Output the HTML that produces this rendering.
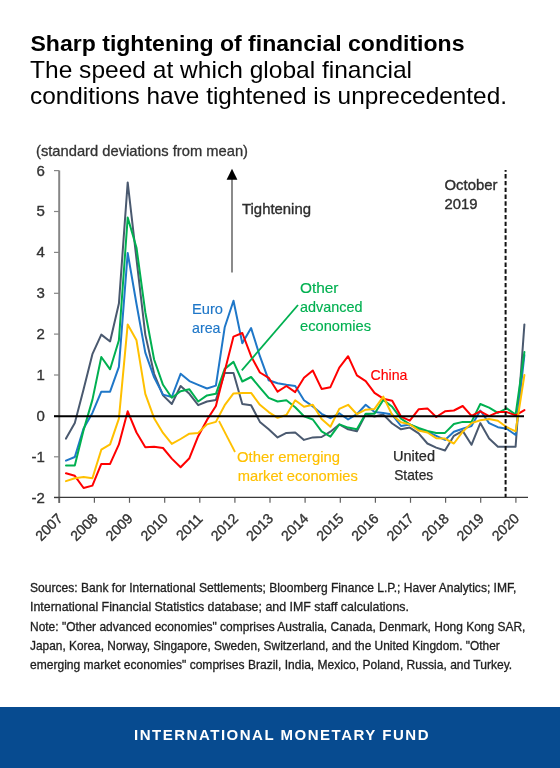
<!DOCTYPE html>
<html><head><meta charset="utf-8"><title>Sharp tightening of financial conditions</title>
<style>
html,body{margin:0;padding:0;background:#fff;}
body{width:560px;height:768px;overflow:hidden;position:relative;font-family:"Liberation Sans", sans-serif;}
svg{display:block;will-change:transform;}
</style></head><body>
<svg width="560" height="768" viewBox="0 0 560 768" font-family='"Liberation Sans", sans-serif'>
<rect x="0" y="0" width="560" height="768" fill="#ffffff"/>

<text x="30.5" y="51" font-size="22.8" font-weight="bold" fill="#000" textLength="434" lengthAdjust="spacingAndGlyphs">Sharp tightening of financial conditions</text>
<text x="30" y="77.7" font-size="23.4" fill="#000" textLength="382" lengthAdjust="spacingAndGlyphs">The speed at which global financial</text>
<text x="30" y="104.3" font-size="23.4" fill="#000" textLength="477" lengthAdjust="spacingAndGlyphs">conditions have tightened is unprecedented.</text>
<text x="36" y="156.4" font-size="14.4" fill="#333" stroke="#333" stroke-width="0.3" textLength="212" lengthAdjust="spacingAndGlyphs">(standard deviations from mean)</text>
<line x1="59.2" y1="170.5" x2="59.2" y2="503" stroke="#868686" stroke-width="2"/>
<line x1="54" y1="497.7" x2="59.2" y2="497.7" stroke="#868686" stroke-width="1.2"/>
<text x="44.8" y="502.6" font-size="15" fill="#333" stroke="#333" stroke-width="0.35" text-anchor="end">-2</text>
<line x1="54" y1="456.8" x2="59.2" y2="456.8" stroke="#868686" stroke-width="1.2"/>
<text x="44.8" y="461.7" font-size="15" fill="#333" stroke="#333" stroke-width="0.35" text-anchor="end">-1</text>
<line x1="54" y1="415.9" x2="59.2" y2="415.9" stroke="#868686" stroke-width="1.2"/>
<text x="44.8" y="420.8" font-size="15" fill="#333" stroke="#333" stroke-width="0.35" text-anchor="end">0</text>
<line x1="54" y1="375.0" x2="59.2" y2="375.0" stroke="#868686" stroke-width="1.2"/>
<text x="44.8" y="379.9" font-size="15" fill="#333" stroke="#333" stroke-width="0.35" text-anchor="end">1</text>
<line x1="54" y1="334.1" x2="59.2" y2="334.1" stroke="#868686" stroke-width="1.2"/>
<text x="44.8" y="339.0" font-size="15" fill="#333" stroke="#333" stroke-width="0.35" text-anchor="end">2</text>
<line x1="54" y1="293.3" x2="59.2" y2="293.3" stroke="#868686" stroke-width="1.2"/>
<text x="44.8" y="298.2" font-size="15" fill="#333" stroke="#333" stroke-width="0.35" text-anchor="end">3</text>
<line x1="54" y1="252.4" x2="59.2" y2="252.4" stroke="#868686" stroke-width="1.2"/>
<text x="44.8" y="257.3" font-size="15" fill="#333" stroke="#333" stroke-width="0.35" text-anchor="end">4</text>
<line x1="54" y1="211.5" x2="59.2" y2="211.5" stroke="#868686" stroke-width="1.2"/>
<text x="44.8" y="216.4" font-size="15" fill="#333" stroke="#333" stroke-width="0.35" text-anchor="end">5</text>
<line x1="54" y1="170.6" x2="59.2" y2="170.6" stroke="#868686" stroke-width="1.2"/>
<text x="44.8" y="175.5" font-size="15" fill="#333" stroke="#333" stroke-width="0.35" text-anchor="end">6</text>
<line x1="54" y1="497.4" x2="528" y2="497.4" stroke="#3a3a3a" stroke-width="1.2"/>
<line x1="59.3" y1="497.8" x2="59.3" y2="502.8" stroke="#606060" stroke-width="1.2"/>
<text x="48.8" y="527.0" font-size="14.2" fill="#333" stroke="#333" stroke-width="0.35" text-anchor="middle" dominant-baseline="central" transform="rotate(-45 48.8 527.0)">2007</text>
<line x1="94.4" y1="497.8" x2="94.4" y2="502.8" stroke="#606060" stroke-width="1.2"/>
<text x="83.9" y="527.0" font-size="14.2" fill="#333" stroke="#333" stroke-width="0.35" text-anchor="middle" dominant-baseline="central" transform="rotate(-45 83.9 527.0)">2008</text>
<line x1="129.5" y1="497.8" x2="129.5" y2="502.8" stroke="#606060" stroke-width="1.2"/>
<text x="119.0" y="527.0" font-size="14.2" fill="#333" stroke="#333" stroke-width="0.35" text-anchor="middle" dominant-baseline="central" transform="rotate(-45 119.0 527.0)">2009</text>
<line x1="164.7" y1="497.8" x2="164.7" y2="502.8" stroke="#606060" stroke-width="1.2"/>
<text x="154.2" y="527.0" font-size="14.2" fill="#333" stroke="#333" stroke-width="0.35" text-anchor="middle" dominant-baseline="central" transform="rotate(-45 154.2 527.0)">2010</text>
<line x1="199.8" y1="497.8" x2="199.8" y2="502.8" stroke="#606060" stroke-width="1.2"/>
<text x="189.3" y="527.0" font-size="14.2" fill="#333" stroke="#333" stroke-width="0.35" text-anchor="middle" dominant-baseline="central" transform="rotate(-45 189.3 527.0)">2011</text>
<line x1="234.9" y1="497.8" x2="234.9" y2="502.8" stroke="#606060" stroke-width="1.2"/>
<text x="224.4" y="527.0" font-size="14.2" fill="#333" stroke="#333" stroke-width="0.35" text-anchor="middle" dominant-baseline="central" transform="rotate(-45 224.4 527.0)">2012</text>
<line x1="270.0" y1="497.8" x2="270.0" y2="502.8" stroke="#606060" stroke-width="1.2"/>
<text x="259.5" y="527.0" font-size="14.2" fill="#333" stroke="#333" stroke-width="0.35" text-anchor="middle" dominant-baseline="central" transform="rotate(-45 259.5 527.0)">2013</text>
<line x1="305.1" y1="497.8" x2="305.1" y2="502.8" stroke="#606060" stroke-width="1.2"/>
<text x="294.6" y="527.0" font-size="14.2" fill="#333" stroke="#333" stroke-width="0.35" text-anchor="middle" dominant-baseline="central" transform="rotate(-45 294.6 527.0)">2014</text>
<line x1="340.3" y1="497.8" x2="340.3" y2="502.8" stroke="#606060" stroke-width="1.2"/>
<text x="329.8" y="527.0" font-size="14.2" fill="#333" stroke="#333" stroke-width="0.35" text-anchor="middle" dominant-baseline="central" transform="rotate(-45 329.8 527.0)">2015</text>
<line x1="375.4" y1="497.8" x2="375.4" y2="502.8" stroke="#606060" stroke-width="1.2"/>
<text x="364.9" y="527.0" font-size="14.2" fill="#333" stroke="#333" stroke-width="0.35" text-anchor="middle" dominant-baseline="central" transform="rotate(-45 364.9 527.0)">2016</text>
<line x1="410.5" y1="497.8" x2="410.5" y2="502.8" stroke="#606060" stroke-width="1.2"/>
<text x="400.0" y="527.0" font-size="14.2" fill="#333" stroke="#333" stroke-width="0.35" text-anchor="middle" dominant-baseline="central" transform="rotate(-45 400.0 527.0)">2017</text>
<line x1="445.6" y1="497.8" x2="445.6" y2="502.8" stroke="#606060" stroke-width="1.2"/>
<text x="435.1" y="527.0" font-size="14.2" fill="#333" stroke="#333" stroke-width="0.35" text-anchor="middle" dominant-baseline="central" transform="rotate(-45 435.1 527.0)">2018</text>
<line x1="480.7" y1="497.8" x2="480.7" y2="502.8" stroke="#606060" stroke-width="1.2"/>
<text x="470.2" y="527.0" font-size="14.2" fill="#333" stroke="#333" stroke-width="0.35" text-anchor="middle" dominant-baseline="central" transform="rotate(-45 470.2 527.0)">2019</text>
<line x1="515.9" y1="497.8" x2="515.9" y2="502.8" stroke="#606060" stroke-width="1.2"/>
<text x="505.4" y="527.0" font-size="14.2" fill="#333" stroke="#333" stroke-width="0.35" text-anchor="middle" dominant-baseline="central" transform="rotate(-45 505.4 527.0)">2020</text>
<polyline points="66.0,438.6 74.8,423.1 83.6,389.3 92.4,354.2 101.3,334.6 110.1,341.5 118.9,303.6 127.7,182.4 136.5,259.1 145.3,334.6 154.1,373.8 163.0,395.4 171.8,404.0 180.6,386.0 189.4,393.8 198.2,405.2 207.0,401.5 215.9,399.9 224.7,373.0 233.5,373.0 242.3,404.0 251.1,405.2 259.9,421.9 268.7,429.3 277.6,437.4 286.4,432.9 295.2,432.5 304.0,439.9 312.8,437.4 321.6,437.0 330.4,431.7 339.3,424.4 348.1,429.3 356.9,431.3 365.7,414.2 374.5,416.6 383.3,414.6 392.2,423.5 401.0,429.3 409.8,427.6 418.6,433.3 427.4,443.5 436.2,447.6 445.0,450.5 453.9,435.8 462.7,430.9 471.5,444.8 480.3,423.1 489.1,438.6 497.9,446.8 506.8,446.8 515.6,446.8 524.4,324.4" fill="none" stroke="#4A596F" stroke-width="2" stroke-linejoin="round" stroke-linecap="round"/>
<polyline points="66.0,460.7 74.8,457.0 83.6,428.4 92.4,412.9 101.3,391.7 110.1,391.7 118.9,366.8 127.7,253.0 136.5,304.0 145.3,352.6 154.1,377.4 163.0,394.6 171.8,397.0 180.6,373.8 189.4,381.1 198.2,384.8 207.0,388.5 215.9,385.6 224.7,327.3 233.5,300.7 242.3,343.2 251.1,328.1 259.9,356.2 268.7,380.3 277.6,383.2 286.4,384.8 295.2,386.0 304.0,400.3 312.8,406.4 321.6,413.8 330.4,418.2 339.3,413.3 348.1,419.5 356.9,414.2 365.7,404.8 374.5,412.1 383.3,412.9 392.2,414.6 401.0,426.0 409.8,424.4 418.6,428.8 427.4,431.7 436.2,435.8 445.0,439.9 453.9,431.7 462.7,428.8 471.5,426.0 480.3,410.5 489.1,423.1 497.9,427.2 506.8,428.8 515.6,435.0 524.4,355.0" fill="none" stroke="#1F77C8" stroke-width="2" stroke-linejoin="round" stroke-linecap="round"/>
<polyline points="66.0,465.6 74.8,465.6 83.6,430.1 92.4,399.9 101.3,357.0 110.1,369.3 118.9,340.3 127.7,217.5 136.5,247.7 145.3,312.2 154.1,359.5 163.0,384.8 171.8,397.8 180.6,391.3 189.4,389.3 198.2,401.5 207.0,395.4 215.9,393.8 224.7,368.9 233.5,361.9 242.3,381.5 251.1,377.0 259.9,387.6 268.7,397.8 277.6,401.5 286.4,400.3 295.2,407.2 304.0,416.2 312.8,419.5 321.6,431.3 330.4,436.6 339.3,424.4 348.1,427.6 356.9,429.3 365.7,413.8 374.5,413.8 383.3,399.9 392.2,406.8 401.0,418.6 409.8,424.4 418.6,428.0 427.4,430.9 436.2,432.9 445.0,432.9 453.9,424.0 462.7,421.9 471.5,421.9 480.3,404.0 489.1,407.6 497.9,412.9 506.8,408.4 515.6,414.6 524.4,352.1" fill="none" stroke="#00B050" stroke-width="2" stroke-linejoin="round" stroke-linecap="round"/>
<polyline points="66.0,473.3 74.8,475.8 83.6,488.0 92.4,485.6 101.3,463.9 110.1,463.9 118.9,444.4 127.7,411.3 136.5,432.5 145.3,447.2 154.1,446.8 163.0,448.0 171.8,458.6 180.6,467.2 189.4,458.2 198.2,436.2 207.0,419.9 215.9,406.0 224.7,371.3 233.5,336.6 242.3,333.0 251.1,356.2 259.9,372.5 268.7,377.8 277.6,391.7 286.4,386.0 295.2,392.1 304.0,377.8 312.8,370.5 321.6,388.9 330.4,387.2 339.3,367.6 348.1,356.2 356.9,375.4 365.7,381.1 374.5,392.9 383.3,398.7 392.2,400.7 401.0,416.6 409.8,420.7 418.6,409.3 427.4,408.4 436.2,417.0 445.0,411.3 453.9,410.5 462.7,406.0 471.5,415.8 480.3,411.3 489.1,416.2 497.9,412.1 506.8,412.1 515.6,415.4 524.4,410.1" fill="none" stroke="#FF0000" stroke-width="2" stroke-linejoin="round" stroke-linecap="round"/>
<polyline points="66.0,481.1 74.8,478.2 83.6,477.0 92.4,478.2 101.3,449.7 110.1,444.4 118.9,418.6 127.7,324.4 136.5,340.3 145.3,393.8 154.1,418.2 163.0,432.9 171.8,443.9 180.6,439.0 189.4,433.7 198.2,432.9 207.0,424.4 215.9,421.9 224.7,405.2 233.5,393.4 242.3,392.9 251.1,392.9 259.9,404.8 268.7,412.1 277.6,417.8 286.4,415.0 295.2,400.3 304.0,406.8 312.8,404.8 321.6,419.1 330.4,426.8 339.3,408.9 348.1,404.8 356.9,414.2 365.7,409.7 374.5,408.9 383.3,396.6 392.2,415.0 401.0,422.3 409.8,424.4 418.6,430.5 427.4,432.5 436.2,438.2 445.0,438.6 453.9,443.5 462.7,431.7 471.5,423.1 480.3,420.3 489.1,419.1 497.9,420.7 506.8,427.2 515.6,431.3 524.4,375.0" fill="none" stroke="#FFC000" stroke-width="2" stroke-linejoin="round" stroke-linecap="round"/>
<line x1="54" y1="416.3" x2="524" y2="416.3" stroke="#000" stroke-width="2"/>
<line x1="505.6" y1="170" x2="505.6" y2="497" stroke="#111" stroke-width="2" stroke-dasharray="4.4 2.4" stroke-dashoffset="2.7"/>
<line x1="232" y1="178" x2="232" y2="272.5" stroke="#595959" stroke-width="1.4"/>
<polygon points="232,168.8 226.6,179.8 237.4,179.8" fill="#000"/>
<text x="242" y="214" font-size="14.2" fill="#2e2e2e" stroke="#2e2e2e" stroke-width="0.35" textLength="69" lengthAdjust="spacingAndGlyphs">Tightening</text>
<text x="444.5" y="189.5" font-size="14.2" fill="#2e2e2e" stroke="#2e2e2e" stroke-width="0.35" textLength="53" lengthAdjust="spacingAndGlyphs">October</text>
<text x="444.5" y="209.1" font-size="14.2" fill="#2e2e2e" stroke="#2e2e2e" stroke-width="0.35" textLength="33" lengthAdjust="spacingAndGlyphs">2019</text>
<text x="192" y="314.3" font-size="14.2" fill="#1F77C8" stroke="#1F77C8" stroke-width="0.15" textLength="31" lengthAdjust="spacingAndGlyphs">Euro</text>
<text x="192" y="333.4" font-size="14.2" fill="#1F77C8" stroke="#1F77C8" stroke-width="0.15" textLength="28.5" lengthAdjust="spacingAndGlyphs">area</text>
<text x="300" y="292.9" font-size="14.2" fill="#00B050" stroke="#00B050" stroke-width="0.15" textLength="38.5" lengthAdjust="spacingAndGlyphs">Other</text>
<text x="300" y="312" font-size="14.2" fill="#00B050" stroke="#00B050" stroke-width="0.15" textLength="62.5" lengthAdjust="spacingAndGlyphs">advanced</text>
<text x="300" y="330.8" font-size="14.2" fill="#00B050" stroke="#00B050" stroke-width="0.15" textLength="71" lengthAdjust="spacingAndGlyphs">economies</text>
<line x1="241.8" y1="370.4" x2="298" y2="305" stroke="#00B050" stroke-width="1.8"/>
<text x="370.5" y="380.3" font-size="14.2" fill="#FF0000" stroke="#FF0000" stroke-width="0.15" textLength="37" lengthAdjust="spacingAndGlyphs">China</text>
<text x="237" y="462" font-size="14.2" fill="#FFC000" stroke="#FFC000" stroke-width="0.15" textLength="103" lengthAdjust="spacingAndGlyphs">Other emerging</text>
<text x="237.8" y="480.5" font-size="14.2" fill="#FFC000" stroke="#FFC000" stroke-width="0.15" textLength="120" lengthAdjust="spacingAndGlyphs">market economies</text>
<line x1="219" y1="421" x2="235" y2="452" stroke="#FFC000" stroke-width="1.8"/>
<text x="414" y="460.5" font-size="14.2" fill="#2a2a2a" stroke="#2a2a2a" stroke-width="0.25" text-anchor="middle" textLength="42" lengthAdjust="spacingAndGlyphs">United</text>
<text x="413.7" y="480" font-size="14.2" fill="#2a2a2a" stroke="#2a2a2a" stroke-width="0.25" text-anchor="middle" textLength="39" lengthAdjust="spacingAndGlyphs">States</text>
<text x="30" y="591.8" font-size="12.2" fill="#1e1e1e" stroke="#1e1e1e" stroke-width="0.3" textLength="486.4" lengthAdjust="spacingAndGlyphs">Sources: Bank for International Settlements; Bloomberg Finance L.P.; Haver Analytics; IMF,</text>
<text x="30" y="611.1" font-size="12.2" fill="#1e1e1e" stroke="#1e1e1e" stroke-width="0.3" textLength="379" lengthAdjust="spacingAndGlyphs">International Financial Statistics database; and IMF staff calculations.</text>
<text x="30" y="630.5" font-size="12.2" fill="#1e1e1e" stroke="#1e1e1e" stroke-width="0.3" textLength="495.4" lengthAdjust="spacingAndGlyphs">Note: "Other advanced economies" comprises Australia, Canada, Denmark, Hong Kong SAR,</text>
<text x="30" y="649.9" font-size="12.2" fill="#1e1e1e" stroke="#1e1e1e" stroke-width="0.3" textLength="469.7" lengthAdjust="spacingAndGlyphs">Japan, Korea, Norway, Singapore, Sweden, Switzerland, and the United Kingdom. "Other</text>
<text x="30" y="669.3" font-size="12.2" fill="#1e1e1e" stroke="#1e1e1e" stroke-width="0.3" textLength="482.2" lengthAdjust="spacingAndGlyphs">emerging market economies" comprises Brazil, India, Mexico, Poland, Russia, and Turkey.</text>
<rect x="0" y="707" width="560" height="61" fill="#074B90"/>
<text x="134" y="739.6" font-size="15" font-weight="bold" fill="#fff" textLength="294.5" lengthAdjust="spacing">INTERNATIONAL MONETARY FUND</text>
</svg></body></html>
